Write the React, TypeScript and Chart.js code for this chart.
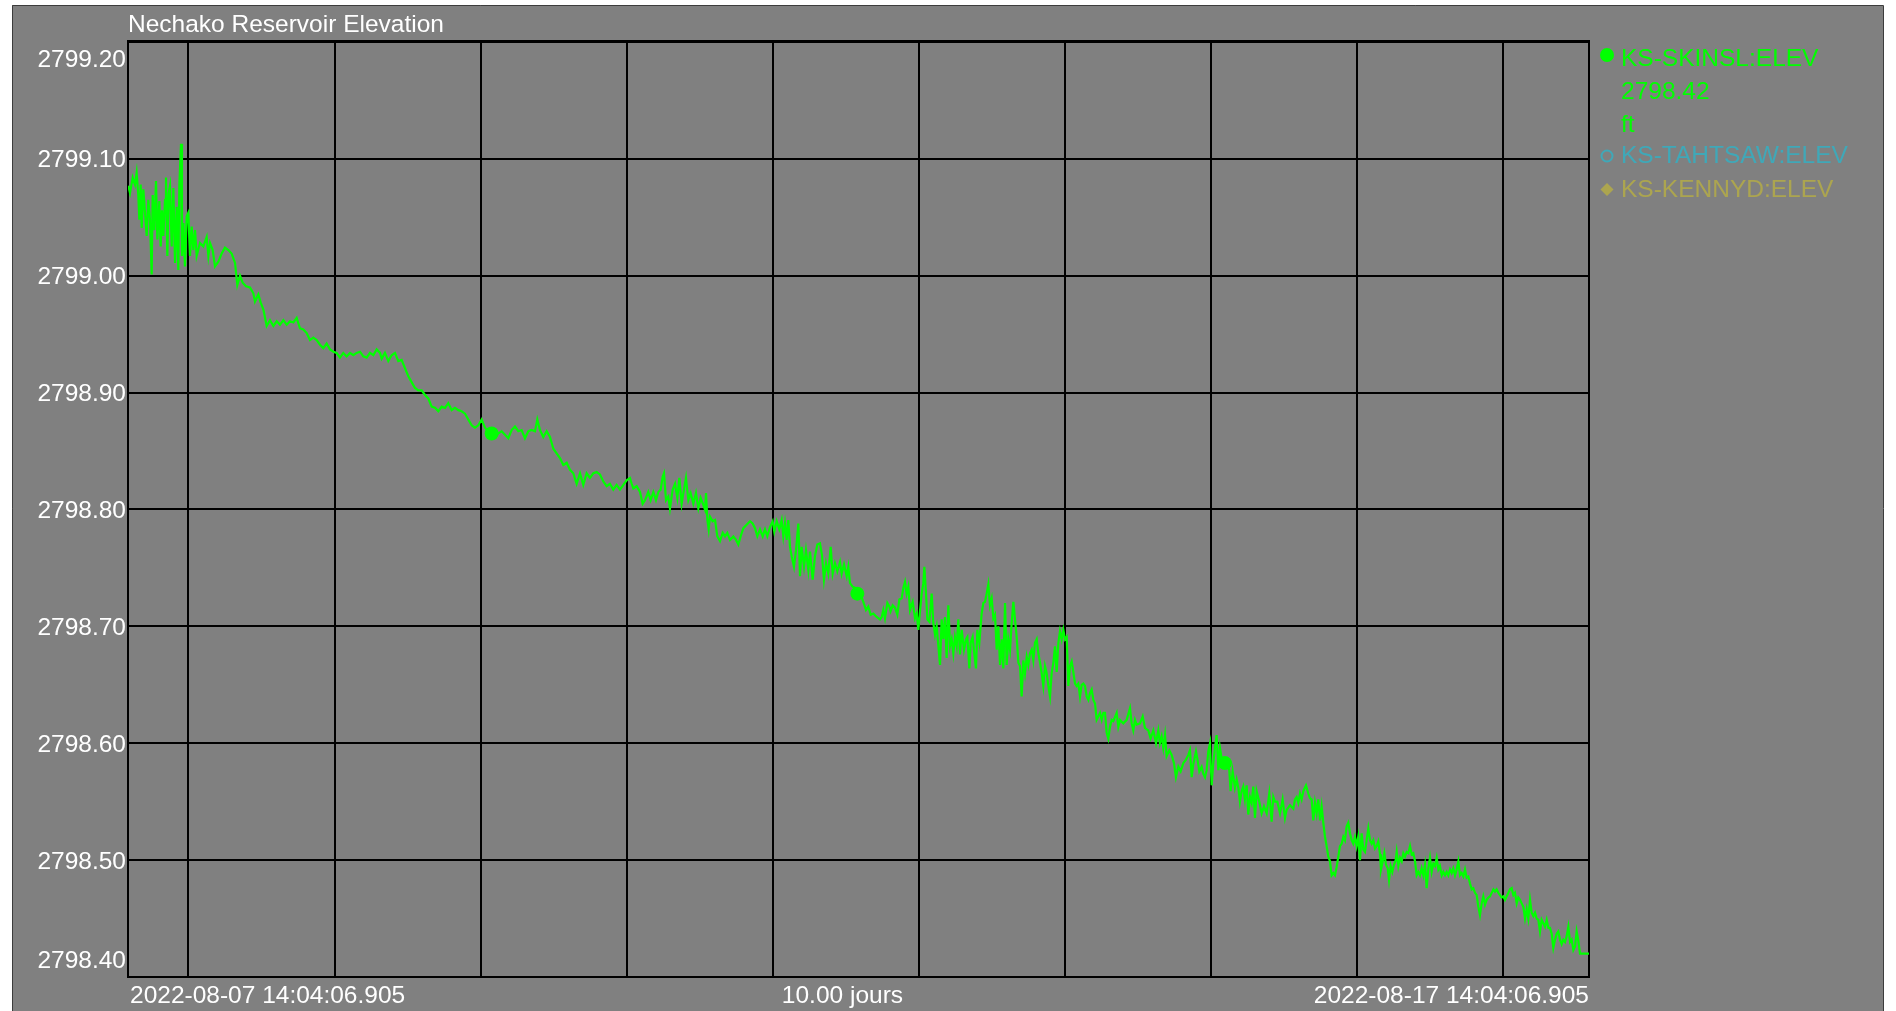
import React, { useEffect, useRef } from "react";
import { Chart, registerables } from "chart.js";

Chart.register(...registerables);

const chartTitle = "Nechako Reservoir Elevation";
const startLabel = "2022-08-07 14:04:06.905";
const endLabel = "2022-08-17 14:04:06.905";
const spanLabel = "10.00 jours";
const spanHours = 240;
const startClockHours = 14 + 4 / 60 + 6.905 / 3600;
const seriesNames = ["KS-SKINSL:ELEV", "KS-TAHTSAW:ELEV", "KS-KENNYD:ELEV"];
const seriesColors = ["#00ff00", "#3fa8b8", "#aca54f"];
const unitLabel = "ft";
const yTickValues = [2798.4, 2798.5, 2798.6, 2798.7, 2798.8, 2798.9, 2799.0, 2799.1, 2799.2];
const yTickLabels = ["2798.40", "2798.50", "2798.60", "2798.70", "2798.80", "2798.90", "2799.00", "2799.10", "2799.20"];

// [hours since start, elevation ft]
const traceDay1: [number, number][] = [
  [0.05, 2799.077], [0.33, 2799.071], [0.77, 2799.084], [1.15, 2799.078], [1.42, 2799.088], [1.7, 2799.068], [1.86, 2799.048], [2.08, 2799.078], [2.25, 2799.041], [2.52, 2799.074],
  [2.79, 2799.054], [3.07, 2799.034], [3.34, 2799.065], [3.61, 2799.048], [3.89, 2799.001], [4.05, 2799.069], [4.33, 2799.039], [4.6, 2799.081], [4.82, 2799.031], [5.15, 2799.064],
  [5.37, 2799.025], [5.59, 2799.056], [5.81, 2799.034], [6.08, 2799.065], [6.24, 2799.084], [6.46, 2799.017], [6.68, 2799.071], [6.9, 2799.077], [7.18, 2799.025], [7.45, 2799.075],
  [7.72, 2799.011], [8.0, 2799.059], [8.27, 2799.005], [8.43, 2799.077], [8.71, 2799.113], [8.87, 2799.017], [9.09, 2799.045], [9.36, 2799.008], [9.64, 2799.051], [9.91, 2799.054],
  [10.18, 2799.017], [10.46, 2799.042], [10.73, 2799.022], [11.01, 2799.039], [11.28, 2799.017], [11.83, 2799.028], [12.37, 2799.025], [12.92, 2799.033], [13.2, 2799.017], [13.47, 2799.028],
  [13.91, 2799.022], [14.29, 2799.008], [14.84, 2799.012], [15.39, 2799.019], [15.93, 2799.024], [16.48, 2799.022], [17.03, 2799.019], [17.58, 2799.011], [17.96, 2798.992], [18.4, 2799.0],
  [18.84, 2798.994], [19.38, 2798.991], [20.04, 2798.99], [20.59, 2798.985], [20.86, 2798.978], [21.41, 2798.984], [21.8, 2798.977], [22.24, 2798.971], [22.78, 2798.957], [23.33, 2798.962],
  [23.88, 2798.957], [24.43, 2798.961], [24.97, 2798.958], [25.52, 2798.962], [26.07, 2798.958], [26.61, 2798.961], [27.16, 2798.96], [27.71, 2798.964], [28.25, 2798.955], [28.8, 2798.954],
  [29.35, 2798.951], [29.9, 2798.945], [30.44, 2798.947], [30.99, 2798.945], [31.54, 2798.941], [32.09, 2798.938], [32.63, 2798.942], [33.18, 2798.937], [33.73, 2798.935], [34.28, 2798.934],
  [34.82, 2798.93], [35.37, 2798.934], [35.92, 2798.931], [36.47, 2798.934], [37.01, 2798.932], [37.56, 2798.934], [38.11, 2798.935], [38.66, 2798.931], [39.2, 2798.93], [39.75, 2798.934],
  [40.3, 2798.932], [40.85, 2798.937], [41.4, 2798.934],
];

const traceDay2: [number, number][] = [
  [41.67, 2798.929], [42.21, 2798.934], [42.76, 2798.927], [43.31, 2798.932], [43.86, 2798.934], [44.4, 2798.927], [44.95, 2798.928], [45.5, 2798.921], [46.05, 2798.914], [46.59, 2798.909],
  [47.14, 2798.904], [47.69, 2798.902], [48.24, 2798.902], [48.79, 2798.898], [49.33, 2798.895], [49.88, 2798.888], [50.43, 2798.887], [50.98, 2798.884], [51.52, 2798.888], [52.07, 2798.887],
  [52.62, 2798.891], [53.17, 2798.885], [53.71, 2798.887], [54.26, 2798.885], [54.81, 2798.884], [55.36, 2798.882], [55.9, 2798.877], [56.45, 2798.872], [57.0, 2798.87], [57.55, 2798.872],
  [58.09, 2798.877], [58.64, 2798.87], [59.19, 2798.867], [59.74, 2798.865], [60.28, 2798.867], [60.83, 2798.865], [61.38, 2798.867], [61.93, 2798.864], [62.47, 2798.861], [63.02, 2798.868],
  [63.57, 2798.871], [64.12, 2798.867], [64.66, 2798.868], [65.21, 2798.861], [65.76, 2798.867], [66.31, 2798.868], [66.85, 2798.867], [67.24, 2798.877], [67.68, 2798.868], [68.22, 2798.862],
  [68.77, 2798.867], [69.32, 2798.862], [69.87, 2798.852], [70.41, 2798.848], [70.96, 2798.844], [71.51, 2798.838], [72.06, 2798.84], [72.6, 2798.834], [73.15, 2798.831], [73.7, 2798.822],
  [74.25, 2798.831], [74.79, 2798.821], [75.34, 2798.831], [75.89, 2798.827], [76.44, 2798.831], [76.98, 2798.832], [77.53, 2798.83], [78.08, 2798.824], [78.63, 2798.82], [79.17, 2798.822],
  [79.72, 2798.817], [80.27, 2798.821], [80.82, 2798.817], [81.37, 2798.821], [81.91, 2798.825], [82.46, 2798.827],
];

const traceDay3: [number, number][] = [
  [82.74, 2798.822], [83.01, 2798.818], [83.56, 2798.82], [84.11, 2798.815], [84.54, 2798.805], [84.93, 2798.808], [85.47, 2798.815], [85.86, 2798.808], [86.3, 2798.815], [86.73, 2798.808],
  [87.12, 2798.815], [87.5, 2798.817], [87.83, 2798.828], [88.05, 2798.831], [88.38, 2798.808], [88.76, 2798.811], [89.03, 2798.801], [89.47, 2798.817], [89.86, 2798.822], [90.24, 2798.81],
  [90.57, 2798.827], [90.95, 2798.805], [91.33, 2798.817], [91.66, 2798.827], [92.05, 2798.808], [92.43, 2798.814], [92.87, 2798.805], [93.3, 2798.814], [93.69, 2798.801], [94.07, 2798.81],
  [94.51, 2798.804], [94.78, 2798.8], [94.95, 2798.814], [95.17, 2798.791], [95.39, 2798.783], [95.6, 2798.794], [96.04, 2798.79], [96.43, 2798.791], [96.81, 2798.777], [97.25, 2798.773],
  [97.69, 2798.78], [98.07, 2798.777], [98.45, 2798.78], [98.89, 2798.774], [99.44, 2798.777], [99.88, 2798.774], [100.26, 2798.77], [100.64, 2798.777], [101.08, 2798.784], [101.63, 2798.787],
  [102.18, 2798.79], [102.61, 2798.788], [103.0, 2798.784], [103.38, 2798.777], [103.82, 2798.783], [104.26, 2798.777], [104.64, 2798.783], [105.02, 2798.777], [105.46, 2798.785], [105.9, 2798.79],
  [106.17, 2798.781], [106.56, 2798.79], [106.99, 2798.783], [107.38, 2798.791], [107.65, 2798.777], [107.92, 2798.788], [108.2, 2798.774], [108.47, 2798.791], [108.75, 2798.768], [109.02, 2798.76],
  [109.4, 2798.751], [109.73, 2798.765], [110.12, 2798.788], [110.39, 2798.743], [110.66, 2798.768], [111.05, 2798.751], [111.37, 2798.765], [111.76, 2798.748], [112.03, 2798.764], [112.47, 2798.74],
  [112.85, 2798.76], [113.24, 2798.77], [113.67, 2798.771], [114.0, 2798.761], [114.33, 2798.74], [114.66, 2798.754], [115.04, 2798.745], [115.43, 2798.768], [115.76, 2798.745], [116.14, 2798.754],
  [116.52, 2798.747], [116.96, 2798.755], [117.23, 2798.745], [117.62, 2798.753], [118.06, 2798.743], [118.33, 2798.751], [118.6, 2798.737], [119.04, 2798.734], [119.42, 2798.733], [119.81, 2798.728],
  [120.35, 2798.727], [120.79, 2798.721], [121.23, 2798.714], [121.61, 2798.717], [122.0, 2798.71], [122.43, 2798.711], [122.98, 2798.708], [123.53, 2798.706],
];

const traceDay4: [number, number][] = [
  [123.81, 2798.708], [124.08, 2798.714], [124.35, 2798.707], [124.74, 2798.72], [125.07, 2798.717], [125.28, 2798.713], [125.61, 2798.718], [126.0, 2798.716], [126.38, 2798.71], [126.71, 2798.723],
  [127.09, 2798.724], [127.37, 2798.733], [127.64, 2798.738], [127.91, 2798.728], [128.19, 2798.734], [128.46, 2798.714], [128.9, 2798.721], [129.28, 2798.707], [129.56, 2798.711], [129.83, 2798.697],
  [130.1, 2798.713], [130.38, 2798.728], [130.65, 2798.737], [130.82, 2798.751], [131.09, 2798.728], [131.31, 2798.706], [131.64, 2798.704], [132.02, 2798.728], [132.29, 2798.703], [132.57, 2798.693],
  [132.84, 2798.7], [133.12, 2798.683], [133.39, 2798.667], [133.66, 2798.706], [133.94, 2798.689], [134.21, 2798.708], [134.48, 2798.673], [134.76, 2798.718], [135.03, 2798.683], [135.31, 2798.689],
  [135.58, 2798.677], [135.85, 2798.691], [136.13, 2798.683], [136.4, 2798.706], [136.67, 2798.676], [136.95, 2798.697], [137.33, 2798.68], [137.66, 2798.689], [137.88, 2798.691], [138.21, 2798.664],
  [138.43, 2798.686], [138.75, 2798.691], [138.97, 2798.679], [139.3, 2798.664], [139.52, 2798.697], [139.85, 2798.686], [140.23, 2798.711], [140.51, 2798.72], [140.78, 2798.721], [141.05, 2798.728],
  [141.33, 2798.736], [141.6, 2798.718], [141.88, 2798.724], [142.15, 2798.707], [142.42, 2798.71], [142.7, 2798.68], [142.97, 2798.7], [143.25, 2798.667], [143.52, 2798.689], [143.79, 2798.664],
  [144.07, 2798.72], [144.34, 2798.667], [144.61, 2798.689], [144.89, 2798.68], [145.16, 2798.703], [145.44, 2798.721], [145.71, 2798.706], [145.98, 2798.691], [146.26, 2798.669], [146.53, 2798.666],
  [146.8, 2798.64], [147.08, 2798.671], [147.35, 2798.66], [147.63, 2798.674], [147.9, 2798.667], [148.17, 2798.677], [148.45, 2798.68], [148.72, 2798.671], [148.99, 2798.686], [149.27, 2798.689],
  [149.54, 2798.677], [149.82, 2798.669], [150.09, 2798.66], [150.36, 2798.649], [150.64, 2798.666], [150.91, 2798.66], [151.19, 2798.649], [151.46, 2798.64], [151.73, 2798.66], [152.01, 2798.669],
  [152.28, 2798.683], [152.55, 2798.661], [152.83, 2798.686], [153.1, 2798.696], [153.38, 2798.689], [153.65, 2798.697], [153.92, 2798.689], [154.2, 2798.691], [154.47, 2798.649], [154.74, 2798.666],
  [155.02, 2798.67], [155.29, 2798.661], [155.57, 2798.651], [155.84, 2798.649], [156.11, 2798.651], [156.39, 2798.64], [156.66, 2798.65], [156.93, 2798.651], [157.21, 2798.649], [157.48, 2798.64],
  [157.76, 2798.637], [158.03, 2798.643], [158.3, 2798.646], [158.58, 2798.637], [158.85, 2798.634], [159.12, 2798.62], [159.4, 2798.623], [159.67, 2798.626], [159.95, 2798.62], [160.22, 2798.626],
  [160.49, 2798.626], [160.77, 2798.609], [161.04, 2798.604], [161.31, 2798.614], [161.59, 2798.62], [161.86, 2798.619], [162.41, 2798.626], [162.68, 2798.614], [162.96, 2798.62], [163.5, 2798.617],
  [164.05, 2798.62], [164.6, 2798.63],
];

const traceDay5: [number, number][] = [
  [164.87, 2798.617], [165.14, 2798.611], [165.42, 2798.62], [165.69, 2798.616], [166.24, 2798.617], [166.68, 2798.623], [167.06, 2798.613], [167.61, 2798.611], [167.99, 2798.604], [168.43, 2798.611],
  [168.87, 2798.6], [169.25, 2798.611], [169.52, 2798.6], [169.8, 2798.606], [170.07, 2798.596], [170.35, 2798.607], [170.62, 2798.589], [171.06, 2798.594], [171.44, 2798.59], [171.82, 2798.583],
  [172.15, 2798.571], [172.54, 2798.58], [172.92, 2798.576], [173.36, 2798.583], [173.79, 2798.586], [174.18, 2798.59], [174.45, 2798.594], [174.73, 2798.571], [175.0, 2798.582], [175.44, 2798.593],
  [175.66, 2798.587], [175.99, 2798.576], [176.37, 2798.58], [176.64, 2798.574], [176.92, 2798.571], [177.19, 2798.577], [177.46, 2798.593], [177.74, 2798.6], [178.01, 2798.564], [178.28, 2798.583],
  [178.56, 2798.596], [178.83, 2798.607], [179.11, 2798.577], [179.38, 2798.596], [179.65, 2798.587], [179.93, 2798.582], [180.47, 2798.584], [180.91, 2798.577], [181.13, 2798.559], [181.46, 2798.576],
  [181.84, 2798.562], [182.12, 2798.569], [182.39, 2798.562], [182.66, 2798.55], [182.94, 2798.559], [183.21, 2798.563], [183.48, 2798.552], [183.76, 2798.564], [184.03, 2798.539], [184.31, 2798.554],
  [184.58, 2798.549], [184.85, 2798.563], [185.13, 2798.536], [185.4, 2798.559], [185.84, 2798.55], [186.22, 2798.54], [186.61, 2798.546], [187.05, 2798.54], [187.48, 2798.557], [187.87, 2798.533],
  [188.14, 2798.554], [188.41, 2798.55], [188.8, 2798.55], [189.24, 2798.54], [189.67, 2798.552], [190.06, 2798.536], [190.33, 2798.543], [190.88, 2798.547], [191.43, 2798.544], [191.7, 2798.552],
  [191.97, 2798.554], [192.25, 2798.549], [192.52, 2798.557], [192.8, 2798.552], [193.07, 2798.559], [193.51, 2798.564], [193.89, 2798.557], [194.16, 2798.553], [194.44, 2798.552], [194.71, 2798.534],
  [194.99, 2798.549], [195.26, 2798.54], [195.53, 2798.552], [195.81, 2798.534], [196.08, 2798.546], [196.35, 2798.532], [196.63, 2798.52], [196.9, 2798.512], [197.18, 2798.503], [197.45, 2798.499],
  [197.72, 2798.487], [198.0, 2798.489], [198.27, 2798.487], [198.54, 2798.494], [198.82, 2798.503], [199.09, 2798.512], [199.37, 2798.514], [199.64, 2798.52], [199.91, 2798.517], [200.19, 2798.529],
  [200.46, 2798.532], [200.74, 2798.523], [201.01, 2798.517], [201.28, 2798.514], [201.56, 2798.52], [201.83, 2798.512], [202.1, 2798.52], [202.38, 2798.5], [202.65, 2798.523], [202.93, 2798.509],
  [203.2, 2798.507], [203.47, 2798.517], [203.75, 2798.527], [204.02, 2798.517],
];

const traceDay6: [number, number][] = [
  [204.3, 2798.514], [204.57, 2798.517], [204.85, 2798.51], [205.12, 2798.512], [205.39, 2798.516], [205.67, 2798.505], [205.83, 2798.492], [206.11, 2798.499], [206.38, 2798.506], [206.65, 2798.496],
  [206.93, 2798.493], [207.15, 2798.483], [207.42, 2798.495], [207.69, 2798.49], [207.97, 2798.496], [208.24, 2798.5], [208.41, 2798.507], [208.68, 2798.495], [208.95, 2798.502], [209.23, 2798.499],
  [209.5, 2798.506], [209.78, 2798.503], [210.05, 2798.507], [210.32, 2798.506], [210.6, 2798.512], [210.87, 2798.505], [211.14, 2798.506], [211.42, 2798.499], [211.69, 2798.487], [211.97, 2798.49],
  [212.24, 2798.487], [212.51, 2798.493], [212.79, 2798.487], [213.06, 2798.496], [213.33, 2798.476], [213.61, 2798.493], [213.88, 2798.502], [214.16, 2798.49], [214.43, 2798.497], [214.7, 2798.495],
  [214.98, 2798.502], [215.25, 2798.492], [215.52, 2798.495], [215.8, 2798.487], [216.07, 2798.49], [216.35, 2798.487], [216.62, 2798.49], [216.89, 2798.487], [217.17, 2798.492], [217.44, 2798.489],
  [217.71, 2798.493], [217.99, 2798.487], [218.26, 2798.492], [218.54, 2798.499], [218.81, 2798.487], [219.08, 2798.489], [219.36, 2798.486], [219.63, 2798.492], [219.9, 2798.485], [220.18, 2798.486],
  [220.45, 2798.48], [220.73, 2798.475], [221.0, 2798.476], [221.27, 2798.472], [221.55, 2798.47], [221.82, 2798.46], [222.09, 2798.453], [222.37, 2798.463], [222.64, 2798.469], [222.92, 2798.462],
  [223.19, 2798.466], [223.46, 2798.468], [223.74, 2798.469], [224.01, 2798.472], [224.29, 2798.475], [224.56, 2798.473], [224.83, 2798.475], [225.11, 2798.472], [225.38, 2798.47], [225.65, 2798.468],
  [225.93, 2798.469], [226.2, 2798.466], [226.48, 2798.469], [226.75, 2798.472], [227.02, 2798.475], [227.3, 2798.476], [227.57, 2798.47], [227.84, 2798.472], [228.12, 2798.463], [228.39, 2798.468],
  [228.67, 2798.466], [228.94, 2798.463], [229.21, 2798.46], [229.49, 2798.45], [229.76, 2798.458], [230.03, 2798.45], [230.31, 2798.466], [230.58, 2798.455], [230.86, 2798.452], [231.13, 2798.455],
  [231.4, 2798.45], [231.68, 2798.449], [231.95, 2798.439], [232.22, 2798.449], [232.5, 2798.446], [232.77, 2798.443], [233.05, 2798.449], [233.32, 2798.442], [233.59, 2798.442], [233.87, 2798.437],
  [234.14, 2798.425], [234.42, 2798.432], [234.69, 2798.437], [234.96, 2798.439], [235.24, 2798.432], [235.51, 2798.428], [235.78, 2798.432], [236.06, 2798.43], [236.33, 2798.435], [236.61, 2798.443],
  [236.88, 2798.43], [237.15, 2798.432], [237.43, 2798.423], [237.7, 2798.426], [237.97, 2798.439], [238.25, 2798.431], [238.52, 2798.42], [239.07, 2798.42], [239.62, 2798.42], [240.0, 2798.42],
];

const highlightHours = [59.74, 119.81, 180.2];
const highlightElev = [2798.865, 2798.728, 2798.583];

const FONT = "24.5px 'Liberation Sans', Arial, Helvetica, sans-serif";

export default function App() {
  const canvasRef = useRef<HTMLCanvasElement | null>(null);

  useEffect(() => {
    const canvas = canvasRef.current;
    if (!canvas) return;
    const trace = [...traceDay1, ...traceDay2, ...traceDay3, ...traceDay4, ...traceDay5, ...traceDay6];
    const lastValue = trace[trace.length - 1][1];

    const firstMidnight = 24 - startClockHours;
    const xGridValues: number[] = [0];
    for (let h = firstMidnight; h < spanHours; h += 24) xGridValues.push(h);
    xGridValues.push(spanHours);

    const framePlugin = {
      id: "frame",
      beforeDraw(chart: any) {
        const ctx = chart.ctx as CanvasRenderingContext2D;
        ctx.save();
        ctx.fillStyle = "#ffffff";
        ctx.fillRect(0, 0, chart.width, chart.height);
        ctx.fillStyle = "#808080";
        ctx.fillRect(12, 5, chart.width - 12 - 13, chart.height);
        ctx.strokeStyle = "#3c3c3c";
        ctx.lineWidth = 1;
        ctx.beginPath();
        ctx.moveTo(12.5, chart.height);
        ctx.lineTo(12.5, 5.5);
        ctx.lineTo(chart.width - 12.5, 5.5);
        ctx.lineTo(chart.width - 12.5, chart.height);
        ctx.stroke();
        ctx.restore();
      },
      afterDatasetsDraw(chart: any) {
        const ctx = chart.ctx as CanvasRenderingContext2D;
        const area = chart.chartArea;
        ctx.save();
        ctx.strokeStyle = "#000000";
        ctx.lineWidth = 3;
        ctx.beginPath();
        ctx.moveTo(area.left - 1, area.top - 0.5);
        ctx.lineTo(area.right + 1, area.top - 0.5);
        ctx.stroke();
        ctx.restore();
      },
      afterDraw(chart: any) {
        const ctx = chart.ctx as CanvasRenderingContext2D;
        const area = chart.chartArea;
        const yScale = chart.scales.y;
        ctx.save();
        ctx.font = FONT;
        ctx.fillStyle = "#ffffff";
        ctx.textBaseline = "alphabetic";
        // title
        ctx.textAlign = "left";
        ctx.fillText(chartTitle, area.left, area.top - 10);
        // y labels
        ctx.textAlign = "right";
        yTickValues.forEach((v, i) => {
          let base = yScale.getPixelForValue(v) + 8.5;
          if (i === yTickValues.length - 1) base = area.top + 25;
          if (i === 0) base = area.bottom - 9;
          ctx.fillText(yTickLabels[i], area.left - 2, base);
        });
        // x labels
        const xb = area.bottom + 26;
        ctx.textAlign = "left";
        ctx.fillText(startLabel, area.left + 2, xb);
        ctx.textAlign = "center";
        ctx.fillText(spanLabel, area.left + (area.right - area.left) * 0.489, xb);
        ctx.textAlign = "right";
        ctx.fillText(endLabel, area.right, xb);
        // legend
        const mx = area.right + 18;
        const tx = area.right + 32;
        ctx.textAlign = "left";
        ctx.fillStyle = seriesColors[0];
        ctx.beginPath();
        ctx.arc(mx, area.top + 13, 7, 0, Math.PI * 2);
        ctx.fill();
        ctx.fillText(seriesNames[0], tx, area.top + 24);
        ctx.fillText(lastValue.toFixed(2), tx, area.top + 57);
        ctx.fillText(unitLabel, tx, area.top + 90);
        ctx.strokeStyle = seriesColors[1];
        ctx.fillStyle = seriesColors[1];
        ctx.lineWidth = 2;
        ctx.beginPath();
        ctx.arc(mx, area.top + 114, 5.5, 0, Math.PI * 2);
        ctx.stroke();
        ctx.fillText(seriesNames[1], tx, area.top + 121);
        ctx.fillStyle = seriesColors[2];
        ctx.beginPath();
        ctx.moveTo(mx, area.top + 141);
        ctx.lineTo(mx + 6.5, area.top + 147.5);
        ctx.lineTo(mx, area.top + 154);
        ctx.lineTo(mx - 6.5, area.top + 147.5);
        ctx.closePath();
        ctx.fill();
        ctx.fillText(seriesNames[2], tx, area.top + 155);
        ctx.restore();
      },
    };

    const chart = new Chart(canvas, {
      type: "line",
      data: {
        datasets: [
          {
            label: seriesNames[0],
            data: trace.map(([x, y]) => ({ x, y })),
            borderColor: seriesColors[0],
            borderWidth: 2.2,
            pointRadius: 0,
            tension: 0,
            fill: false,
          },
          {
            label: seriesNames[0] + " markers",
            data: highlightHours.map((x, i) => ({ x, y: highlightElev[i] })),
            showLine: false,
            pointRadius: 7,
            pointBorderWidth: 0,
            pointBackgroundColor: seriesColors[0],
            borderColor: seriesColors[0],
          },
          { label: seriesNames[1], data: [], borderColor: seriesColors[1] },
          { label: seriesNames[2], data: [], borderColor: seriesColors[2] },
        ],
      },
      options: {
        responsive: false,
        animation: false,
        devicePixelRatio: 1,
        layout: { padding: { left: 128, top: 42, right: 307, bottom: 34 } },
        plugins: { legend: { display: false }, tooltip: { enabled: false }, title: { display: false } },
        scales: {
          x: {
            type: "linear",
            min: 0,
            max: spanHours,
            afterBuildTicks: (scale: any) => {
              scale.ticks = xGridValues.map((value) => ({ value }));
            },
            ticks: { display: false },
            grid: { color: "#000000", lineWidth: 2, drawTicks: false },
            border: { display: true, color: "#000000", width: 2 },
          },
          y: {
            type: "linear",
            min: yTickValues[0],
            max: yTickValues[yTickValues.length - 1],
            afterBuildTicks: (scale: any) => {
              scale.ticks = yTickValues.map((value) => ({ value }));
            },
            ticks: { display: false },
            grid: { color: "#000000", lineWidth: 2, drawTicks: false },
            border: { display: true, color: "#000000", width: 2 },
          },
        },
      },
      plugins: [framePlugin],
    });
    return () => chart.destroy();
  }, []);

  return (
    <div style={{ position: "absolute", left: 0, top: 0, width: 1896, height: 1011 }}>
      <canvas ref={canvasRef} width={1896} height={1011} style={{ display: "block" }} />
    </div>
  );
}
